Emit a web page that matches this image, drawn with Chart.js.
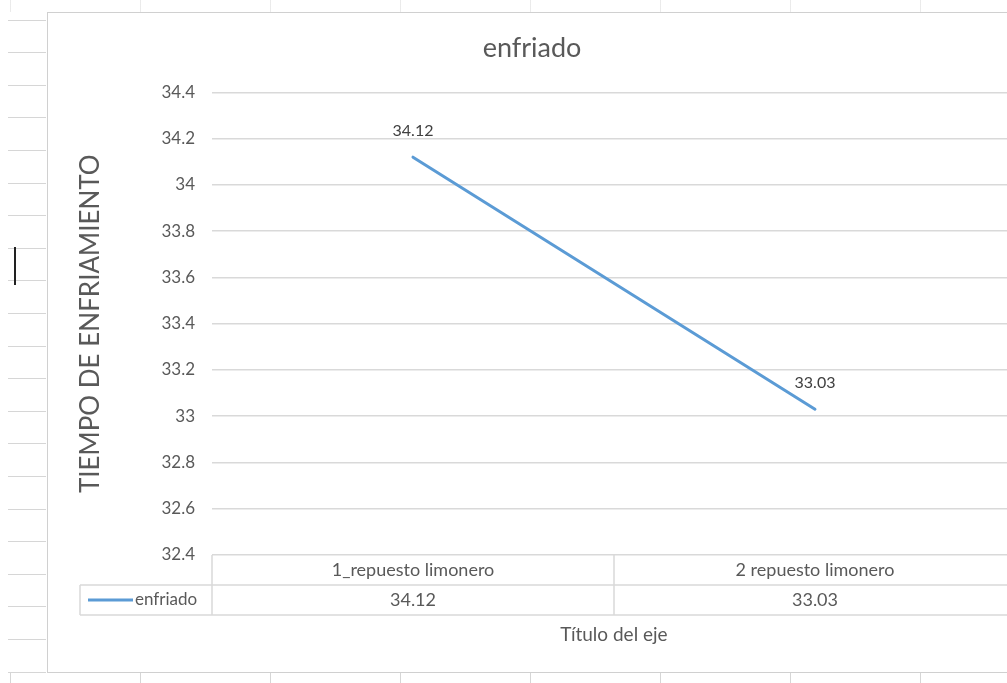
<!DOCTYPE html>
<html>
<head>
<meta charset="utf-8">
<title>enfriado</title>
<script src="https://cdn.jsdelivr.net/npm/chart.js@4/dist/chart.umd.min.js"></script>
<style>
  html, body { margin: 0; padding: 0; width: 1007px; height: 683px; overflow: hidden; background: #fff; }
  /* worksheet row marks to the left of the chart object */
  .rows { position: absolute; left: 8px; top: -13px; width: 38px; height: 700px;
          background-image: repeating-linear-gradient(to bottom, #d6d6d6 0, #d6d6d6 1px, transparent 1px, transparent 32.6px); }
  /* worksheet column marks above and below the chart object */
  .cols { position: absolute; left: 10px; width: 1000px;
          background-image: repeating-linear-gradient(to right, #d6d6d6 0, #d6d6d6 1px, transparent 1px, transparent 130px); }
  .cols.top { top: 0; height: 12px; opacity: .5; }
  .cols.bottom { top: 673px; height: 10px; }
  .cursor { position: absolute; left: 14px; top: 247px; width: 2px; height: 38px; background: #222; }
  #frame { position: absolute; left: 47px; top: 12px; width: 990px; height: 659px;
           border: 1px solid #d0d0d0; background: #fff; }
  #wrap { position: absolute; left: 0; top: 0; width: 987px; height: 659px; }
</style>
</head>
<body>
<div class="rows"></div>
<div class="cols top"></div>
<div class="cols bottom"></div>
<div class="cursor"></div>
<div id="frame"><div id="wrap"><canvas id="chart"></canvas></div></div>
<script>
// Series and labels
const categories = ['1_repuesto limonero', '2 repuesto limonero'];
const enfriado = [34.12, 33.03];
const yTicks = [32.4, 32.6, 32.8, 33, 33.2, 33.4, 33.6, 33.8, 34, 34.2, 34.4];
const seriesName = 'enfriado';
const chartTitle = 'enfriado';
const yTitle = 'TIEMPO DE ENFRIAMIENTO';
const xTitle = 'Título del eje';

const FONT = 'Lato, "Open Sans", sans-serif';
const TEXT = '#595959';
const GRID = '#d9d9d9';
const LINE = '#5B9BD5';

const fmt = v => String(Number(v.toFixed(2)));

// Value labels centred above each point
const valueLabels = {
  id: 'valueLabels',
  afterDatasetsDraw(chart) {
    const { ctx } = chart;
    const meta = chart.getDatasetMeta(0);
    ctx.save();
    ctx.font = '16px ' + FONT;
    ctx.fillStyle = '#404040';
    ctx.textAlign = 'center';
    ctx.textBaseline = 'middle';
    meta.data.forEach((pt, i) => ctx.fillText(fmt(enfriado[i]), pt.x, pt.y - 26));
    ctx.restore();
  }
};

// Data table under the plot: category row, then the series row with its legend key
const dataTable = {
  id: 'dataTable',
  afterDraw(chart) {
    const { ctx, chartArea: a, scales: { x } } = chart;
    const top = a.bottom;
    const r1 = top + 30;
    const r2 = r1 + 30;
    const keyLeft = 32;
    const rule = (x1, y1, x2, y2) => { ctx.beginPath(); ctx.moveTo(x1, y1); ctx.lineTo(x2, y2); ctx.stroke(); };

    ctx.save();
    ctx.strokeStyle = GRID;
    ctx.lineWidth = 1.5;
    rule(keyLeft, r1, a.right, r1);
    rule(keyLeft, r2, a.right, r2);
    rule(keyLeft, r1, keyLeft, r2);
    for (let i = 0; i <= categories.length; i++) {
      const bx = x.getPixelForValue(i - 0.5);
      rule(bx, top, bx, r2);
    }

    ctx.font = '18px ' + FONT;
    ctx.fillStyle = TEXT;
    ctx.textAlign = 'center';
    ctx.textBaseline = 'middle';
    categories.forEach((c, i) => {
      const cx = x.getPixelForValue(i);
      ctx.fillText(c, cx, (top + r1) / 2);
      ctx.fillText(fmt(enfriado[i]), cx, (r1 + r2) / 2);
    });

    // legend key
    const ky = (r1 + r2) / 2;
    ctx.strokeStyle = LINE;
    ctx.lineWidth = 3;
    rule(keyLeft + 8, ky, keyLeft + 53, ky);
    ctx.font = '17px ' + FONT;
    ctx.textAlign = 'left';
    ctx.fillText(seriesName, keyLeft + 55, ky);
    ctx.restore();
  }
};

new Chart(document.getElementById('chart'), {
  type: 'line',
  data: {
    labels: categories,
    datasets: [{
      label: seriesName,
      data: enfriado,
      borderColor: LINE,
      borderWidth: 3,
      pointRadius: 0,
      borderCapStyle: 'round',
      tension: 0
    }]
  },
  options: {
    responsive: true,
    maintainAspectRatio: false,
    animation: false,
    layout: { padding: { left: 0, right: 19, top: 0, bottom: 0 } },
    plugins: {
      legend: { display: false },
      tooltip: { enabled: false },
      title: {
        display: true,
        text: chartTitle,
        color: TEXT,
        font: { family: FONT, size: 27, weight: 'normal' },
        padding: { top: 19, bottom: 28 }
      }
    },
    scales: {
      x: {
        offset: true,
        grid: { display: false, drawTicks: false },
        border: { display: false },
        ticks: { display: false },
        title: {
          display: true,
          text: xTitle,
          color: TEXT,
          font: { family: FONT, size: 19 },
          padding: { top: 0, bottom: 26 }
        },
        afterFit(s) { s.height = 117; }
      },
      y: {
        min: 32.4,
        max: 34.4,
        afterBuildTicks(s) { s.ticks = yTicks.map(v => ({ value: v })); },
        grid: { color: GRID, lineWidth: 1.5, drawTicks: false },
        border: { display: false },
        ticks: {
          color: TEXT,
          font: { family: FONT, size: 17 },
          padding: 17,
          callback: v => String(Number(v.toFixed(1)))
        },
        title: {
          display: true,
          text: yTitle,
          color: TEXT,
          font: { family: FONT, size: 26 },
          padding: { top: 27, bottom: 0 }
        },
        afterFit(s) { s.width = 164; }
      }
    }
  },
  plugins: [valueLabels, dataTable]
});
</script>
</body>
</html>
